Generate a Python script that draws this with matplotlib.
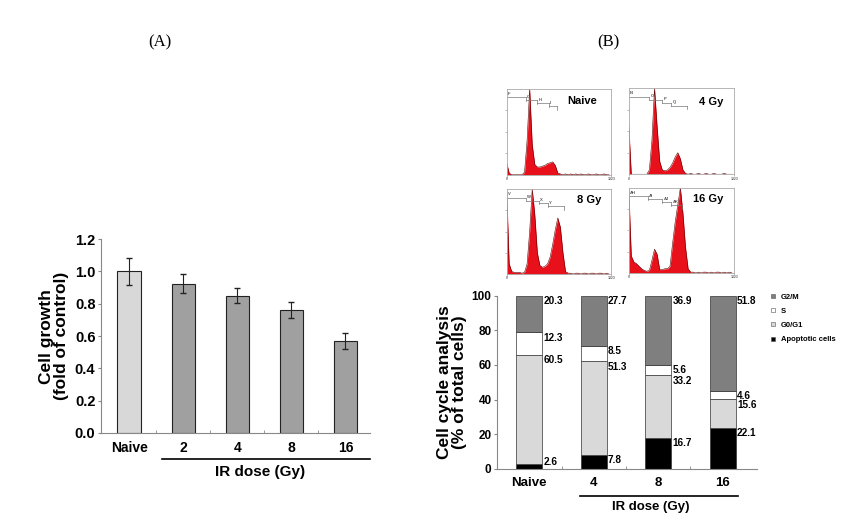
import numpy as np
import matplotlib
matplotlib.use('Agg')
import matplotlib.pyplot as plt
from matplotlib.lines import Line2D

plt.rcParams['font.family'] = ['Liberation Sans', 'DejaVu Sans']
plt.rcParams['font.weight'] = 'bold'
plt.rcParams['axes.labelweight'] = 'bold'

# (A) cell growth
growth_labels = ['Naive', '2', '4', '8', '16']
growth = [1.00, 0.925, 0.85, 0.76, 0.57]
growth_err = [0.085, 0.06, 0.045, 0.05, 0.05]

# (B) cell cycle analysis, % of total cells
cycle_labels = ['Naive', '4', '8', '16']
apoptotic = [2.6, 7.8, 16.7, 22.1]
g0g1 = [60.5, 51.3, 33.2, 15.6]
s_phase = [12.3, 8.5, 5.6, 4.6]
g2m = [20.3, 27.7, 36.9, 51.8]

# DNA content histograms (relative counts, every 25 channels)
hist_names = ['Naive', '4 Gy', '8 Gy', '16 Gy']
hist_naive = [14, 2, 0, 0, 0, 0, 0, 3, 40, 100, 35, 12, 9, 9, 10, 11, 13, 14, 15, 11,
              2, 1, 0, 1, 0, 1, 0, 1, 0, 1, 0, 0, 1, 0, 0, 1, 0, 0, 1, 0, 0]
hist_4gy = [58, 0, 0, 0, 0, 0, 0, 0, 5, 40, 100, 55, 15, 5, 4, 5, 8, 13, 20, 25,
            18, 5, 1, 0, 1, 0, 0, 1, 0, 0, 1, 0, 0, 1, 0, 0, 0, 1, 0, 0, 0]
hist_8gy = [100, 12, 3, 2, 2, 2, 1, 2, 12, 50, 100, 70, 25, 10, 8, 9, 12, 20, 35, 52,
            66, 55, 25, 3, 1, 1, 0, 1, 1, 0, 1, 1, 0, 1, 1, 0, 1, 1, 0, 1, 0]
hist_16gy = [100, 20, 13, 11, 8, 5, 3, 2, 3, 15, 28, 22, 4, 4, 5, 5, 8, 35, 60, 80,
             100, 70, 30, 5, 1, 1, 0, 1, 0, 1, 1, 0, 1, 0, 1, 1, 0, 1, 0, 1, 0]
gate_names = [['F', 'G', 'H', 'I'], ['N', 'O', 'P', 'Q'],
              ['V', 'W', 'X', 'Y'], ['AH', 'AI', 'AJ', 'AK']]
gate_edges = [[0, 7.5, 12, 16.5, 19.5], [0, 8, 13, 16.5, 22.5],
              [0, 7.5, 12.5, 16, 22.5], [0, 7.5, 13, 16.5, 20.5]]

fig = plt.figure(figsize=(8.66, 5.28), dpi=100)

# ---------- panel A ----------
axA = fig.add_axes([0.1166, 0.180, 0.311, 0.367])
xA = np.arange(len(growth))
colorsA = ['#d8d8d8'] + ['#a0a0a0'] * 4
axA.bar(xA, growth, width=0.43, color=colorsA, edgecolor='#222222', linewidth=0.8)
axA.errorbar(xA, growth, yerr=growth_err, fmt='none', ecolor='#222222',
             elinewidth=0.8, capsize=2)
axA.set_ylim(0, 1.2)
axA.set_xlim(-0.52, 4.46)
axA.set_yticks(np.arange(0, 1.21, 0.2))
axA.set_yticklabels(['%.1f' % v for v in np.arange(0, 1.21, 0.2)], fontsize=10.5)
axA.set_xticks(xA)
axA.set_xticklabels(growth_labels, fontsize=10)
axA.set_xticks(xA[:-1] + 0.5, minor=True)
axA.tick_params(axis='x', which='major', length=0, pad=6)
axA.tick_params(axis='x', which='minor', direction='in', length=2, color='#888888')
axA.tick_params(axis='y', length=2, color='#888888', pad=2)
for s in ['top', 'right']:
    axA.spines[s].set_visible(False)
for s in ['left', 'bottom']:
    axA.spines[s].set_color('#888888')
axA.set_ylabel('Cell growth\n(fold of control)', fontsize=12.5, labelpad=4, linespacing=1.0)
axA.plot([0.6, 4.46], [-0.134, -0.134], color='black', lw=1.2,
         transform=axA.get_xaxis_transform(), clip_on=False)
axA.text(2.43, -0.20, 'IR dose (Gy)', transform=axA.get_xaxis_transform(),
         ha='center', va='center', fontsize=11)
fig.text(0.185, 0.92, '(A)', family='Liberation Serif', weight='normal',
         fontsize=12, ha='center', va='center')
fig.text(0.702, 0.92, '(B)', family='Liberation Serif', weight='normal',
         fontsize=12, ha='center', va='center')

# ---------- histograms ----------
hist_data = [hist_naive, hist_4gy, hist_8gy, hist_16gy]
hist_pos = [[0.585, 0.669, 0.121, 0.163], [0.726, 0.670, 0.122, 0.163],
            [0.585, 0.481, 0.121, 0.161], [0.726, 0.483, 0.122, 0.161]]
name_pos = [(0.72, 0.86), (0.78, 0.84), (0.79, 0.87), (0.75, 0.87)]
chan = np.arange(41) * 25
for k in range(4):
    ax = fig.add_axes(hist_pos[k])
    y = np.array(hist_data[k]) / 100.0
    ax.fill_between(chan, 0, y, color='#e8101a', lw=0)
    ax.plot(chan, y, color='#5a0000', lw=0.4)
    edges = gate_edges[k]
    for j in range(4):
        lvl = 0.90 - 0.035 * j
        ax.plot([edges[j] * 25, edges[j + 1] * 25], [lvl, lvl], color='#777777', lw=0.5)
        ax.plot([edges[j + 1] * 25] * 2, [lvl, lvl - 0.04], color='#777777', lw=0.5)
        ax.text(edges[j] * 25 + 12, lvl + 0.02, gate_names[k][j], fontsize=3,
                color='#555555', va='bottom', ha='left')
    ax.text(name_pos[k][0], name_pos[k][1], hist_names[k], transform=ax.transAxes,
            fontsize=8, ha='center', va='center')
    ax.set_xlim(0, 1023)
    ax.set_ylim(0, 1.0)
    ax.set_xticks([0, 1023])
    ax.set_xticklabels(['0', '1023'], fontsize=2.5, color='#666666')
    ax.set_yticks([0.25, 0.5, 0.75])
    ax.set_yticklabels([])
    ax.tick_params(length=1.2, width=0.4, color='#888888', pad=0.5)
    for s in ax.spines.values():
        s.set_color('#aaaaaa')
        s.set_linewidth(0.6)

# ---------- panel B stacked bars ----------
axB = fig.add_axes([0.574, 0.112, 0.300, 0.328])
xB = np.arange(len(cycle_labels))
layers = [apoptotic, g0g1, s_phase, g2m]
layer_colors = ['black', '#d9d9d9', 'white', '#7f7f7f']
totals = np.sum(layers, axis=0)
bottom = np.zeros(len(xB))
w = 0.4
for vals, col in zip(layers, layer_colors):
    h = np.array(vals) / totals * 100
    axB.bar(xB, h, bottom=bottom, width=w, color=col, edgecolor='#333333', linewidth=0.5)
    top = bottom + h
    for i in range(len(xB)):
        ty = max(top[i] - 3.0, 4.0)
        if i == 3 and col == 'white':
            ty = 42
        if i == 3 and col == '#d9d9d9':
            ty = 37
        axB.text(xB[i] + w / 2 + 0.02, ty, '%.1f' % vals[i], fontsize=7.2,
                 ha='left', va='center')
    bottom = top
axB.set_ylim(0, 100)
axB.set_xlim(-0.5, 3.53)
axB.set_yticks(np.arange(0, 101, 20))
axB.set_yticklabels([str(v) for v in range(0, 101, 20)], fontsize=8.5)
axB.set_xticks(xB)
axB.set_xticklabels(cycle_labels, fontsize=9.5)
axB.set_xticks(xB[:-1] + 0.5, minor=True)
axB.tick_params(axis='x', which='major', length=0, pad=6)
axB.tick_params(axis='x', which='minor', direction='in', length=2, color='#888888')
axB.tick_params(axis='y', length=2, color='#888888', pad=2)
for s in ['top', 'right']:
    axB.spines[s].set_visible(False)
for s in ['left', 'bottom']:
    axB.spines[s].set_color('#888888')
axB.set_ylabel('Cell cycle analysis\n(% of total cells)', fontsize=12.5, labelpad=3,
               linespacing=1.0)
axB.plot([0.78, 3.24], [-0.156, -0.156], color='black', lw=1.2,
         transform=axB.get_xaxis_transform(), clip_on=False)
axB.text(1.88, -0.22, 'IR dose (Gy)', transform=axB.get_xaxis_transform(),
         ha='center', va='center', fontsize=9.5)

legend_names = ['G2/M', 'S', 'G0/G1', 'Apoptotic cells']
legend_colors = ['#7f7f7f', 'white', '#d9d9d9', 'black']
handles = [Line2D([], [], marker='s', ls='none', markersize=3.5, markerfacecolor=c,
                  markeredgecolor='#555555', markeredgewidth=0.4) for c in legend_colors]
fig.legend(handles, legend_names, loc='upper left', bbox_to_anchor=(0.885, 0.452),
           frameon=False, fontsize=5.5, handlelength=0.8, handletextpad=0.6,
           labelspacing=0.9, borderpad=0)

fig.savefig('out.png', dpi=100)
